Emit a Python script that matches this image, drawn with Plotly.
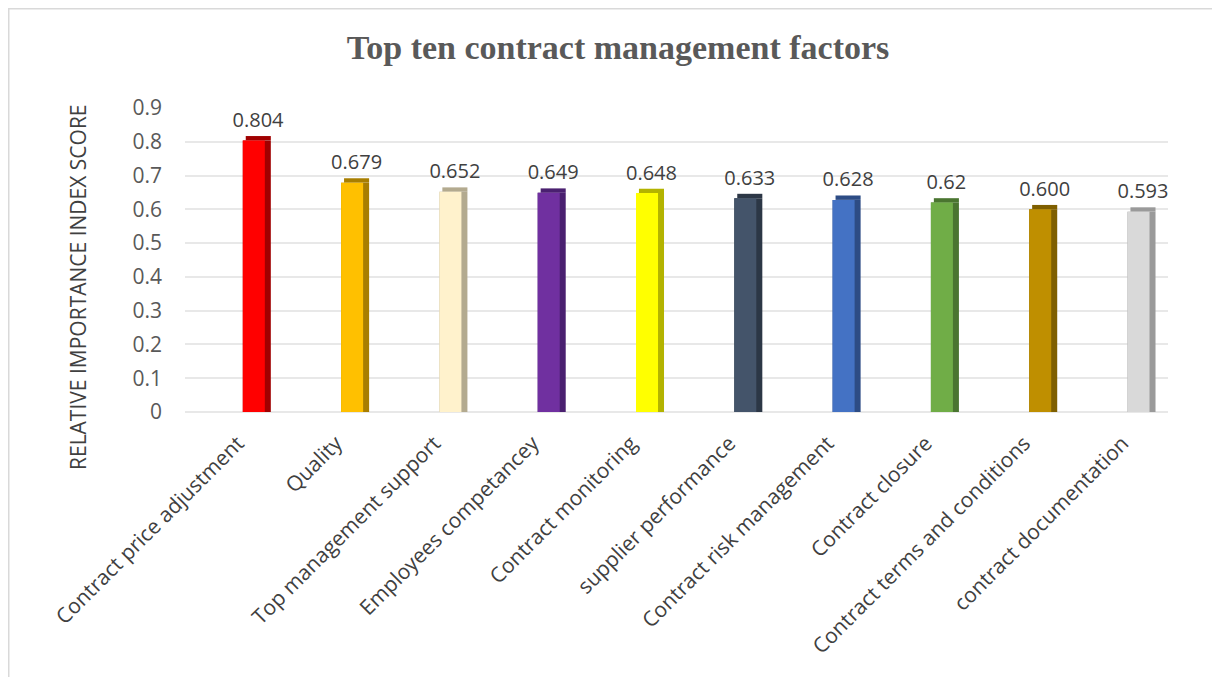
import plotly.graph_objects as go

categories = ["Contract price adjustment", "Quality", "Top management support",
              "Employees competancey", "Contract monitoring", "supplier performance",
              "Contract risk management", "Contract closure",
              "Contract terms and conditions", "contract documentation"]
values = [0.804, 0.679, 0.652, 0.649, 0.648, 0.633, 0.628, 0.62, 0.600, 0.593]
value_labels = ["0.804", "0.679", "0.652", "0.649", "0.648", "0.633", "0.628", "0.62", "0.600", "0.593"]
front_colors = ["#FF0000", "#FFC000", "#FFF2CC", "#7030A0", "#FFFF00",
                "#44546A", "#4472C4", "#70AD47", "#BF8F00", "#D9D9D9"]
side_colors = ["#A00000", "#A87E00", "#B3AA8F", "#4A2070", "#B3B300",
               "#2C3746", "#2D4C85", "#4A7530", "#7F5F00", "#9A9A9A"]
y_ticks = [0, 0.1, 0.2, 0.3, 0.4, 0.5, 0.6, 0.7, 0.8, 0.9]
y_tick_labels = ["0", "0.1", "0.2", "0.3", "0.4", "0.5", "0.6", "0.7", "0.8", "0.9"]
y_title = "RELATIVE IMPORTANCE INDEX SCORE"

L, T, W, H = 177, 100, 983, 304  # plot area in page pixels
CAP = 0.013  # depth of the pseudo-3D top face, in axis units

fig = go.Figure()
# side (depth) face of each bar
fig.add_trace(go.Bar(
    x=categories, y=values, width=0.285, offset=-0.112,
    marker=dict(color=side_colors, line=dict(width=0)),
    hoverinfo="skip", showlegend=False,
))
# top face
fig.add_trace(go.Bar(
    x=categories, y=[CAP] * len(values), base=values, width=0.255, offset=-0.082,
    marker=dict(color=side_colors, line=dict(width=0)),
    text=value_labels, textposition="outside", cliponaxis=False,
    constraintext="none",
    textfont=dict(family="Open Sans", size=20, color="#404040"),
    hoverinfo="skip", showlegend=False,
))
# front face
fig.add_trace(go.Bar(
    x=categories, y=values, width=0.224, offset=-0.112,
    marker=dict(color=front_colors, line=dict(width=0)),
    showlegend=False,
))

fig.update_layout(
    width=1220, height=677,
    barmode="overlay",
    paper_bgcolor="white", plot_bgcolor="white",
    margin=dict(l=L, r=1220 - L - W, t=T, b=677 - T - H),
    title=dict(text="<b>Top ten contract management factors</b>",
               x=0.5, xref="container", y=0.942, yref="container",
               xanchor="center", yanchor="middle",
               font=dict(family="Liberation Serif", size=34, color="#595959")),
    xaxis=dict(type="category", range=[-0.7, 9.3], tickangle=-45,
               tickfont=dict(family="Open Sans", size=21, color="#404040"),
               showgrid=False, showline=False, ticks="", zeroline=False,
               ticklabelstandoff=14, ticklabelshift=-16),
    yaxis=dict(range=[0, 0.9], tickvals=y_ticks, ticktext=y_tick_labels,
               tickfont=dict(family="Open Sans", size=21, color="#595959"),
               showgrid=True, gridcolor="#E8E8E8", gridwidth=2,
               zeroline=True, zerolinecolor="#E8E8E8", zerolinewidth=2,
               showline=False, ticks="", ticklabelstandoff=22),
    annotations=[dict(text=y_title, textangle=-90, showarrow=False,
                      xref="paper", yref="paper",
                      x=(70 - L) / W, y=(T + H - 279) / H,
                      xanchor="center", yanchor="middle",
                      font=dict(family="Open Sans", size=21, color="#404040"))],
    shapes=[dict(type="rect", xref="paper", yref="paper",
                 x0=(0.5 - L) / W, x1=(1260 - L) / W,
                 y0=(T + H - 720) / H, y1=(T + H - 0.5) / H,
                 line=dict(color="#D9D9D9", width=2), fillcolor="rgba(0,0,0,0)", layer="below")],
)

fig.write_html("out.html")
